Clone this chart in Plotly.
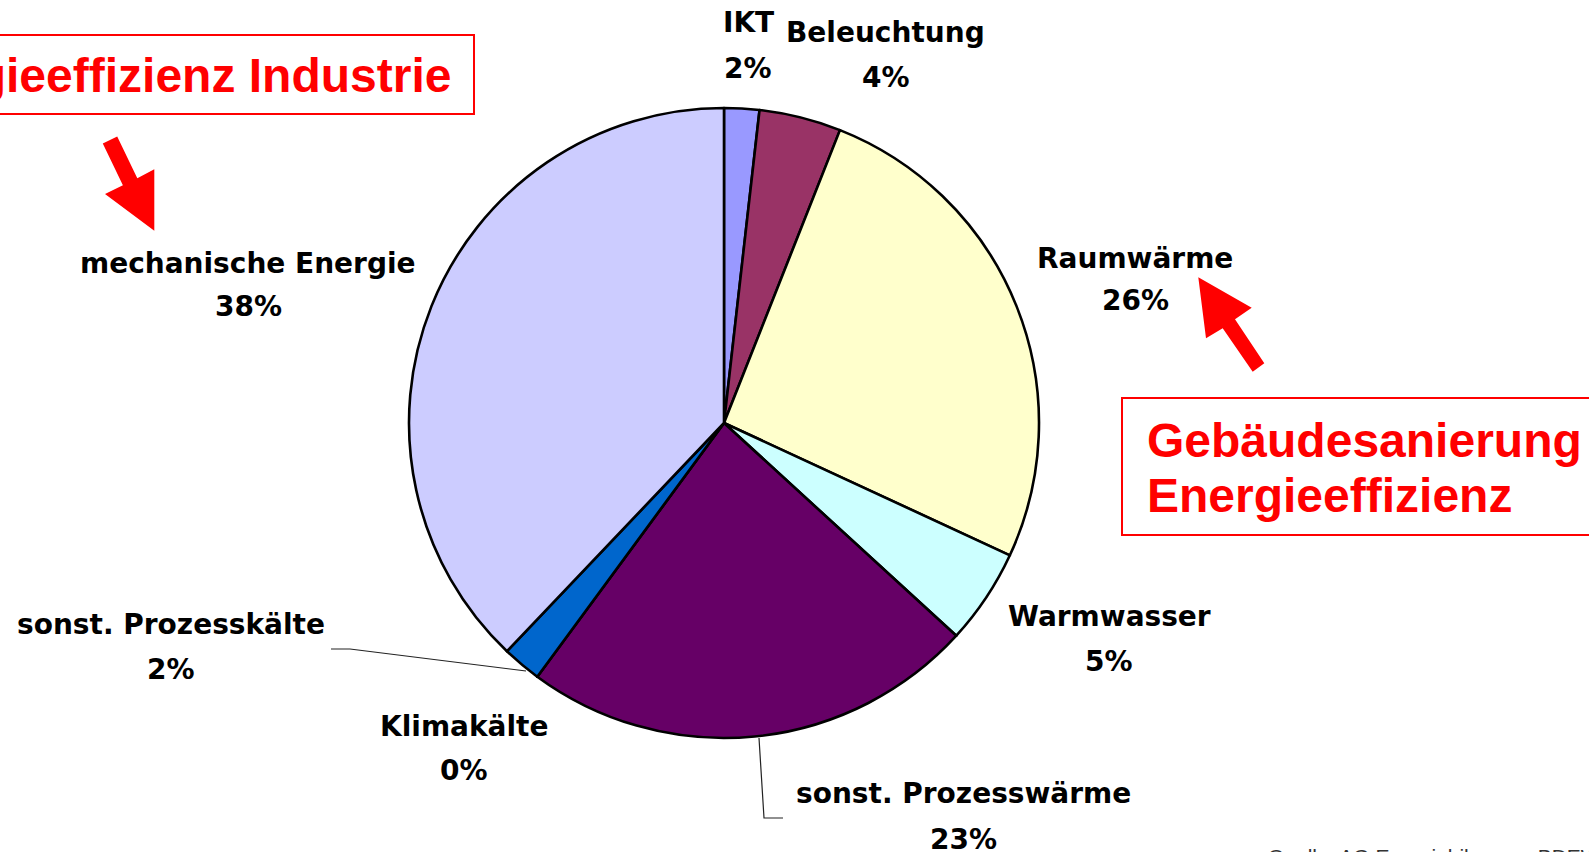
import plotly.graph_objects as go

W, H = 1589, 852

# ---- data ----
categories = ["IKT", "Beleuchtung", "Raumwärme", "Warmwasser",
              "sonst. Prozesswärme", "Klimakälte", "sonst. Prozesskälte",
              "mechanische Energie"]
values = [1.8, 4.2, 25.9, 4.9, 23.3, 0.0, 2.0, 37.9]
colors = ["#9999FF", "#993366", "#FFFFCC", "#CCFFFF",
          "#660066", "#FF8080", "#0066CC", "#CCCCFF"]

total = sum(values)
pct_labels = [f"{round(v / total * 100)}%" for v in values]

# label placement (pixel coords: x center, y of name line, y of percent line)
label_pos = {
    "IKT": (748, 22, 68),
    "Beleuchtung": (886, 33, 77),
    "Raumwärme": (1135, 258, 301),
    "Warmwasser": (1109, 616, 661),
    "sonst. Prozesswärme": (963, 793, 839),
    "Klimakälte": (464, 726, 770),
    "sonst. Prozesskälte": (171, 624, 669),
    "mechanische Energie": (248, 263, 307),
}


def px(x):
    return x / W


def py(y):
    return 1 - y / H


fig = go.Figure()
fig.add_trace(go.Pie(
    labels=categories,
    values=values,
    sort=False,
    direction="clockwise",
    rotation=0,
    textinfo="none",
    hoverinfo="label+percent",
    marker=dict(colors=colors, line=dict(color="black", width=2.6)),
    domain=dict(x=[px(409), px(1039)], y=[py(738), py(108)]),
    showlegend=False,
))

label_font = dict(family="DejaVu Sans", size=28, color="black", weight="bold")
annotations = []
for cat, pct in zip(categories, pct_labels):
    x, y1, y2 = label_pos[cat]
    annotations.append(dict(x=px(x), y=py(y1), xref="paper", yref="paper",
                            text=cat, showarrow=False, xanchor="center",
                            yanchor="middle", font=label_font))
    annotations.append(dict(x=px(x), y=py(y2), xref="paper", yref="paper",
                            text=pct, showarrow=False, xanchor="center",
                            yanchor="middle", font=label_font))

red_font = dict(family="Liberation Sans, Arial", size=48, color="#FF0000",
                weight="bold")
annotations += [
    dict(x=px(453), y=py(75), xref="paper", yref="paper",
         text="Energieeffizienz Industrie", showarrow=False,
         xanchor="right", yanchor="middle", font=red_font),
    dict(x=px(1145), y=py(440), xref="paper", yref="paper",
         text="Gebäudesanierung", showarrow=False,
         xanchor="left", yanchor="middle", font=red_font),
    dict(x=px(1145), y=py(496), xref="paper", yref="paper",
         text="Energieeffizienz", showarrow=False,
         xanchor="left", yanchor="middle", font=red_font),
    dict(x=px(1266), y=py(856), xref="paper", yref="paper",
         text="Quelle: AG Energiebilanzen, BDEW", showarrow=False,
         xanchor="left", yanchor="middle",
         font=dict(family="Liberation Sans, Arial", size=21, color="#333333")),
]


def path(points):
    s = "M " + " L ".join(f"{px(x):.5f} {py(y):.5f}" for x, y in points)
    return s + " Z"


def polyline(points):
    return "M " + " L ".join(f"{px(x):.5f} {py(y):.5f}" for x, y in points)


shapes = [
    # red boxes
    dict(type="rect", xref="paper", yref="paper",
         x0=px(-20), x1=px(474), y0=py(114), y1=py(35),
         line=dict(color="#FF0000", width=2)),
    dict(type="rect", xref="paper", yref="paper",
         x0=px(1122), x1=px(1620), y0=py(535), y1=py(398),
         line=dict(color="#FF0000", width=2)),
    # red block arrows
    dict(type="path", xref="paper", yref="paper",
         path=path([(102.8, 143.5), (117.2, 136.5), (137.3, 178.2),
                    (154.3, 169.3), (154.3, 230.7), (105, 194),
                    (122.9, 185.2)]),
         fillcolor="#FF0000", line=dict(width=0)),
    dict(type="path", xref="paper", yref="paper",
         path=path([(1198.3, 277.3), (1251.7, 307.7), (1235, 319.3),
                    (1264.3, 363.3), (1252.7, 371.7), (1222.7, 328.3),
                    (1206, 338.3)]),
         fillcolor="#FF0000", line=dict(width=0)),
    # leader lines
    dict(type="path", xref="paper", yref="paper",
         path=polyline([(331, 649), (350, 649), (526, 671)]),
         line=dict(color="#222222", width=1.2)),
    dict(type="path", xref="paper", yref="paper",
         path=polyline([(759, 738), (764, 818), (783, 818)]),
         line=dict(color="#222222", width=1.2)),
]

fig.update_layout(
    width=W, height=H,
    margin=dict(l=0, r=0, t=0, b=0),
    paper_bgcolor="white",
    plot_bgcolor="white",
    annotations=annotations,
    shapes=shapes,
)

fig.write_html("out.html",
               config={"displayModeBar": False},
               post_script="document.body.style.margin='0';")
